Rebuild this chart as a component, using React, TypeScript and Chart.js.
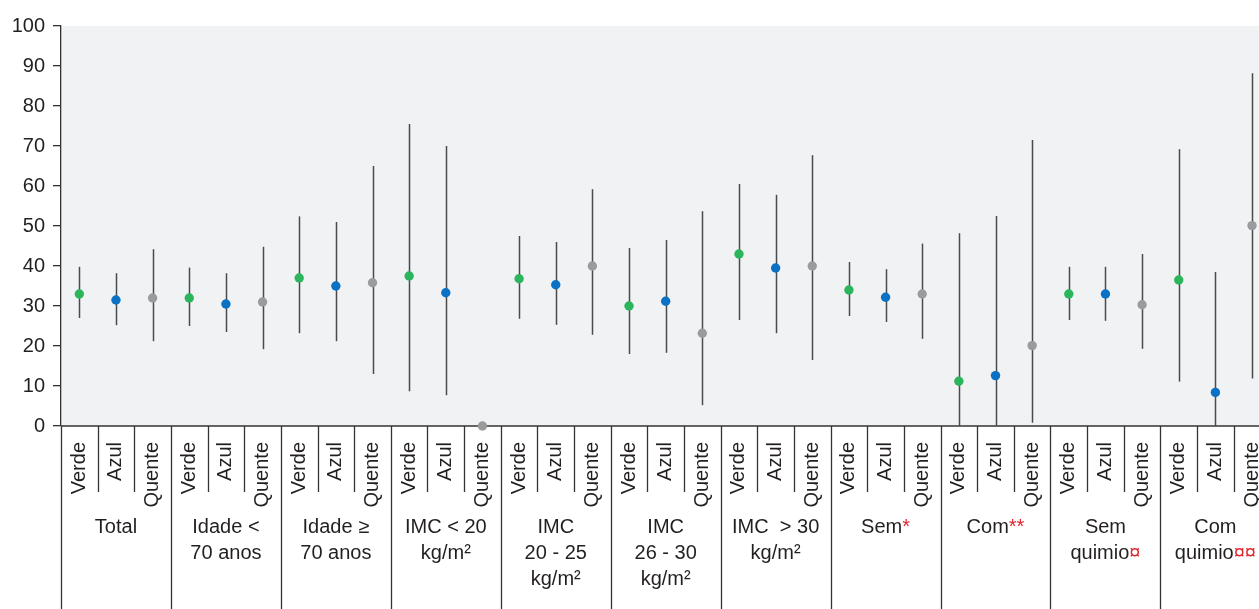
import React, { useEffect, useRef } from 'react';
import { Chart, registerables } from 'chart.js';
Chart.register(...registerables);

const categories = ['Verde', 'Azul', 'Quente'];
const groupLabels: string[][] = [
  ['Total'],
  ['Idade <', '70 anos'],
  ['Idade ≥', '70 anos'],
  ['IMC < 20', 'kg/m²'],
  ['IMC', '20 - 25', 'kg/m²'],
  ['IMC', '26 - 30', 'kg/m²'],
  ['IMC  > 30', 'kg/m²'],
  ['Sem*'],
  ['Com**'],
  ['Sem', 'quimio¤'],
  ['Com', 'quimio¤¤'],
];

const verdeMean = [33, 32, 37, 37.5, 36.8, 30, 43, 34, 11.2, 33, 36.5];
const verdeLow = [27, 25, 23.2, 8.7, 26.8, 18, 26.5, 27.5, 0, 26.5, 11.1];
const verdeHigh = [39.8, 39.6, 52.4, 75.5, 47.5, 44.5, 60.5, 41, 48.2, 39.8, 69.2];
const azulMean = [31.5, 30.5, 35, 33.3, 35.3, 31.2, 39.5, 32.2, 12.6, 33, 8.4];
const azulLow = [25.2, 23.5, 21.2, 7.7, 25.3, 18.3, 23.2, 26, 0, 26.3, 0];
const azulHigh = [38.2, 38.2, 51, 70, 46, 46.5, 57.8, 39.2, 52.5, 39.8, 38.5];
const quenteMean = [32, 31, 35.8, 0, 40, 23.2, 40, 33, 20.1, 30.3, 50.1];
const quenteLow = [21.2, 19.2, 13, 0, 22.8, 5.2, 16.5, 21.8, 0.8, 19.3, 11.9];
const quenteHigh = [44.2, 44.8, 65, 0, 59.2, 53.7, 67.7, 45.6, 71.5, 43, 88.2];

const yTicks = [0, 10, 20, 30, 40, 50, 60, 70, 80, 90, 100];

const FONT = '"Liberation Sans", Arial, Helvetica, sans-serif';
const TEXT = '#231f20';
const RED = '#e0262e';
const LINE = '#333333';

const series = [
  { label: categories[0], mean: verdeMean, low: verdeLow, high: verdeHigh, color: '#2bb55c' },
  { label: categories[1], mean: azulMean, low: azulLow, high: azulHigh, color: '#0a71c4' },
  { label: categories[2], mean: quenteMean, low: quenteLow, high: quenteHigh, color: '#9a9b9d' },
];

function drawRich(ctx: CanvasRenderingContext2D, text: string, cx: number, y: number) {
  const runs: { t: string; red: boolean }[] = [];
  for (const ch of text) {
    const red = ch === '*' || ch === '¤';
    if (runs.length && runs[runs.length - 1].red === red) runs[runs.length - 1].t += ch;
    else runs.push({ t: ch, red });
  }
  const total = runs.reduce((a, r) => a + ctx.measureText(r.t).width, 0);
  let x = cx - total / 2;
  ctx.textAlign = 'left';
  for (const r of runs) {
    ctx.fillStyle = r.red ? RED : TEXT;
    ctx.fillText(r.t, x, y);
    x += ctx.measureText(r.t).width;
  }
}

const customPlugin = {
  id: 'custom',
  beforeDraw(chart: any) {
    const { ctx, chartArea } = chart;
    ctx.save();
    ctx.fillStyle = '#f1f2f4';
    ctx.fillRect(chartArea.left, chartArea.top, chartArea.right - chartArea.left, chartArea.bottom - chartArea.top);
    ctx.restore();
  },
  beforeDatasetsDraw(chart: any) {
    const { ctx, scales, chartArea } = chart;
    const xs = scales.x, ys = scales.y;
    const bottom = chartArea.bottom;
    const H = chart.height;
    ctx.save();
    // axis + separators
    ctx.strokeStyle = LINE;
    ctx.lineWidth = 1.3;
    ctx.beginPath();
    ctx.moveTo(chartArea.left, bottom);
    ctx.lineTo(chartArea.right, bottom);
    ctx.stroke();
    const nCat = groupLabels.length * 3;
    for (let b = 0; b <= nCat; b++) {
      const x = Math.round(xs.getPixelForValue(b - 0.5)) + 0.5;
      if (x > chartArea.right + 1) continue;
      ctx.beginPath();
      ctx.moveTo(x, bottom);
      ctx.lineTo(x, b % 3 === 0 ? H : bottom + 66);
      ctx.stroke();
    }
    // error bars
    ctx.strokeStyle = '#4a4a4a';
    ctx.lineWidth = 1.5;
    series.forEach((s, k) => {
      s.mean.forEach((_, i) => {
        if (s.low[i] === s.high[i]) return;
        const x = Math.round(xs.getPixelForValue(i * 3 + k)) + 0.5;
        ctx.beginPath();
        ctx.moveTo(x, ys.getPixelForValue(s.high[i]));
        ctx.lineTo(x, ys.getPixelForValue(s.low[i]));
        ctx.stroke();
      });
    });
    ctx.restore();
  },
  afterDraw(chart: any) {
    const { ctx, scales, chartArea } = chart;
    const xs = scales.x;
    const bottom = chartArea.bottom;
    ctx.save();
    const nCat = groupLabels.length * 3;
    ctx.font = `20px ${FONT}`;
    ctx.fillStyle = TEXT;
    for (let i = 0; i < nCat; i++) {
      const cx = xs.getPixelForValue(i);
      ctx.save();
      ctx.translate(cx, bottom + 16);
      ctx.rotate(-Math.PI / 2);
      ctx.textAlign = 'right';
      ctx.textBaseline = 'middle';
      ctx.fillStyle = TEXT;
      ctx.fillText(categories[i % 3], 0, 0);
      ctx.restore();
    }
    ctx.textBaseline = 'middle';
    groupLabels.forEach((lines, g) => {
      const cx = xs.getPixelForValue(g * 3 + 1);
      lines.forEach((ln, j) => {
        drawRich(ctx, ln, cx, bottom + 101 + j * 26);
      });
    });
    ctx.restore();
  },
};

export default function App() {
  const ref = useRef<HTMLCanvasElement>(null);
  useEffect(() => {
    if (!ref.current) return;
    const chart = new Chart(ref.current, {
      type: 'scatter',
      data: {
        datasets: series.map((s, k) => ({
          label: s.label,
          data: s.mean.map((v, i) => ({ x: i * 3 + k, y: v })),
          backgroundColor: s.color,
          borderColor: s.color,
          pointRadius: 4.7,
          pointBorderWidth: 0,
          pointHoverRadius: 4.7,
          clip: false,
        })),
      },
      options: {
        animation: false,
        responsive: false,
        maintainAspectRatio: false,
        layout: { autoPadding: false, padding: { top: 26, bottom: 183, left: 0, right: 0 } },
        plugins: { legend: { display: false }, tooltip: { enabled: false } },
        scales: {
          x: { type: 'linear', display: false, min: -0.5, max: 32.19 },
          y: {
            min: 0,
            max: 100,
            afterBuildTicks: (axis: any) => {
              axis.ticks = yTicks.map((v) => ({ value: v }));
            },
            afterFit: (axis: any) => {
              axis.width = 61;
            },
            ticks: { color: TEXT, font: { family: FONT, size: 20 }, padding: 8 },
            grid: { drawOnChartArea: false, drawTicks: true, tickLength: 8, color: LINE, lineWidth: 1.3 },
            border: { display: true, color: LINE, width: 1.3 },
          },
        },
      } as any,
      plugins: [customPlugin],
    });
    return () => chart.destroy();
  }, []);
  return (
    <div style={{ position: 'fixed', left: 0, top: 0, width: 1259, height: 609, background: '#fff' }}>
      <canvas ref={ref} width={1259} height={609} style={{ display: 'block', width: 1259, height: 609 }} />
    </div>
  );
}
